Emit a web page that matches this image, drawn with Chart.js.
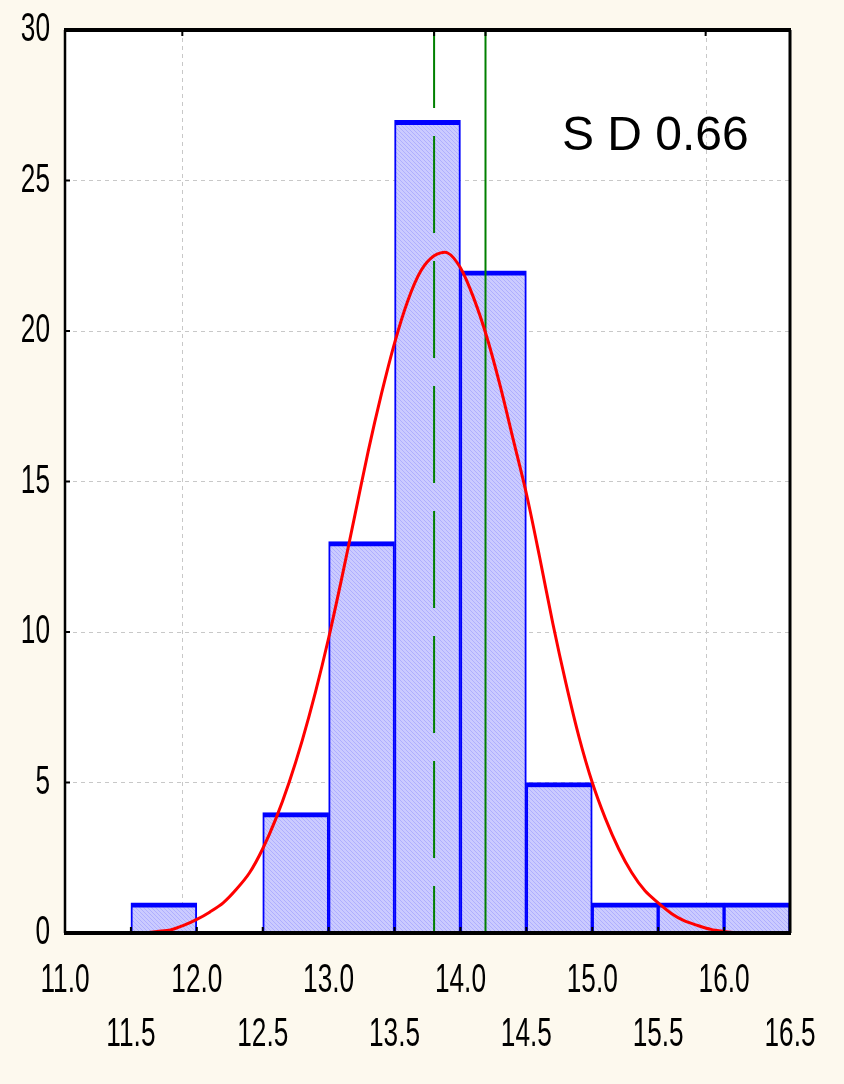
<!DOCTYPE html>
<html>
<head>
<meta charset="utf-8">
<script src="https://cdn.jsdelivr.net/npm/chart.js@4.4.1/dist/chart.umd.min.js"></script>
<style>
  body { margin: 0; background: #fdf9ee; }
  canvas { display: block; }
</style>
</head>
<body>
<canvas id="g_hist" width="844" height="1084"></canvas>
<script>
// histogram bins (centres) and counts
const binCentres = [11.75, 12.25, 12.75, 13.25, 13.75, 14.25, 14.75, 15.25, 15.75, 16.25]
const binCounts = [1, 0, 4, 13, 27, 22, 5, 1, 1, 1]

// fitted normal curve
const curveX = [11.6, 11.7, 11.8, 11.9, 12.0, 12.1, 12.2, 12.3, 12.4, 12.5, 12.6, 12.7, 12.8, 12.9,
    13.0, 13.1, 13.2, 13.3, 13.4, 13.5, 13.6, 13.7, 13.8, 13.9, 14.0, 14.1, 14.2, 14.3, 14.4,
    14.5, 14.6, 14.7, 14.8, 14.9, 15.0, 15.1, 15.2, 15.3, 15.4, 15.5, 15.6, 15.7, 15.8, 15.9, 16.0, 16.1]
const curveY = [0, 0.05, 0.1, 0.25, 0.45, 0.7, 1.0, 1.45, 2.0, 2.8, 3.8, 5.0, 6.4, 8.0,
    9.8, 11.8, 13.9, 16.0, 17.9, 19.6, 21.0, 22.0, 22.5, 22.6, 22.1, 21.1, 19.8, 18.2, 16.4,
    14.6, 12.5, 10.3, 8.3, 6.5, 5.0, 3.8, 2.8, 2.0, 1.4, 1.0, 0.65, 0.4, 0.25, 0.12, 0.05, 0]

// green reference lines (dashed / solid)
const dashedLineX = 13.8
const solidLineX = 14.19

// axis ranges and odd vertical grid positions
const xMin = 11.0
const xMax = 16.5
const yTicks = [0, 5, 10, 15, 20, 25, 30]
const xGridLines = [11.89, 15.86]

const sdLabel = "S D 0.66"
const sdPos = { x: 14.77, y: 26.0 }

const narrowFont = '"Liberation Sans Narrow", "Liberation Sans", sans-serif'

function hatch() {
    const c = document.createElement("canvas")
    c.width = 4
    c.height = 4
    const g = c.getContext("2d")
    g.fillStyle = "#cbcbff"
    g.fillRect(0, 0, 4, 4)
    g.strokeStyle = "#afafff"
    g.lineWidth = 1
    g.beginPath()
    g.moveTo(0, 0)
    g.lineTo(4, 4)
    g.stroke()
    return g.createPattern(c, "repeat")
}

// the tick font of the original is a very condensed Arial: squeeze those labels sideways
const narrowText = {
    id: "narrowText",
    beforeInit(chart) {
        const ctx = chart.ctx
        const fill = ctx.fillText.bind(ctx)
        ctx.fillText = function (text, x, y, maxWidth) {
            if (this.font.indexOf("Narrow") >= 0) {
                this.save()
                this.translate(x, y)
                this.scale(0.64, 1)
                fill(text, 0, 0)
                this.restore()
            } else {
                fill(text, x, y, maxWidth)
            }
        }
    }
}

// white plot area, dashed vertical grid, frame with inner ticks, SD label
const framePlugin = {
    id: "frame",
    beforeDraw(chart) {
        const { ctx, chartArea: a } = chart
        ctx.save()
        ctx.fillStyle = "#ffffff"
        ctx.fillRect(a.left, a.top, a.right - a.left, a.bottom - a.top)
        ctx.restore()
    },
    beforeDatasetsDraw(chart) {
        const { ctx, chartArea: a, scales } = chart
        ctx.save()
        ctx.strokeStyle = "#c8c8c8"
        ctx.lineWidth = 1
        ctx.setLineDash([4, 4])
        xGridLines.forEach(v => {
            const px = Math.round(scales.x.getPixelForValue(v)) + 0.5
            ctx.beginPath()
            ctx.moveTo(px, a.top)
            ctx.lineTo(px, a.bottom)
            ctx.stroke()
        })
        ctx.restore()
    },
    afterDatasetsDraw(chart) {
        const { ctx, chartArea: a, scales } = chart
        ctx.save()
        ctx.strokeStyle = "#000000"
        ctx.lineCap = "butt"
        // inner tick marks
        ctx.lineWidth = 2
        for (let v = xMin + 0.5; v < xMax; v += 0.5) {
            const px = scales.x.getPixelForValue(v)
            ctx.beginPath(); ctx.moveTo(px, a.bottom); ctx.lineTo(px, a.bottom - 6); ctx.stroke()
        }
        xGridLines.concat([dashedLineX, solidLineX]).forEach(v => {
            const px = scales.x.getPixelForValue(v)
            ctx.beginPath(); ctx.moveTo(px, a.top); ctx.lineTo(px, a.top + 6); ctx.stroke()
        })
        yTicks.forEach(v => {
            const py = scales.y.getPixelForValue(v)
            ctx.beginPath(); ctx.moveTo(a.left, py); ctx.lineTo(a.left + 5, py); ctx.stroke()
        })
        // frame
        ctx.lineWidth = 4
        ctx.beginPath(); ctx.moveTo(a.left - 1, a.top); ctx.lineTo(a.right + 1, a.top); ctx.stroke()
        ctx.beginPath(); ctx.moveTo(a.left - 1, a.bottom); ctx.lineTo(a.right + 1, a.bottom); ctx.stroke()
        ctx.lineWidth = 2.5
        ctx.beginPath(); ctx.moveTo(a.left, a.top); ctx.lineTo(a.left, a.bottom); ctx.stroke()
        ctx.lineWidth = 3
        ctx.beginPath(); ctx.moveTo(a.right, a.top); ctx.lineTo(a.right, a.bottom); ctx.stroke()
        // SD label
        ctx.fillStyle = "#000000"
        ctx.font = '48px "Liberation Sans", Arial, sans-serif'
        ctx.textAlign = "left"
        ctx.textBaseline = "alphabetic"
        ctx.fillText(sdLabel, scales.x.getPixelForValue(sdPos.x), scales.y.getPixelForValue(sdPos.y))
        ctx.restore()
    }
}

const noPad = (axis) => {
    axis.paddingTop = 0
    axis.paddingBottom = 0
    axis.paddingLeft = 0
    axis.paddingRight = 0
}

const g_hist = document.getElementById("g_hist")

new Chart(g_hist, {
    type: "bar",
    data: {
        datasets: [
            {
                type: "line",
                label: "normal",
                data: curveX.map((x, i) => ({ x: x, y: curveY[i] })),
                borderColor: "#ff0000",
                borderWidth: 3,
                pointRadius: 0,
                tension: 0.3,
                order: 1
            },
            {
                type: "line",
                label: "dashed",
                data: [{ x: dashedLineX, y: 30 }, { x: dashedLineX, y: 0 }],
                borderColor: "#008000",
                borderWidth: 2,
                borderDash: [97, 28],
                borderDashOffset: 19,
                pointRadius: 0,
                order: 2
            },
            {
                type: "line",
                label: "solid",
                data: [{ x: solidLineX, y: 30 }, { x: solidLineX, y: 0 }],
                borderColor: "#008000",
                borderWidth: 2,
                pointRadius: 0,
                order: 2
            },
            {
                label: "count",
                data: binCentres.map((x, i) => ({ x: x, y: binCounts[i] })),
                backgroundColor: hatch(),
                borderColor: "#0000ff",
                borderWidth: { top: 5, left: 2, right: 2, bottom: 0 },
                borderSkipped: "bottom",
                barPercentage: 1,
                categoryPercentage: 1,
                order: 3
            }
        ]
    },
    options: {
        responsive: false,
        maintainAspectRatio: false,
        animation: false,
        layout: {
            padding: { top: 30, right: 54, left: 0, bottom: 0 }
        },
        plugins: {
            legend: { display: false },
            tooltip: { enabled: false }
        },
        scales: {
            x: {
                type: "linear",
                offset: false,
                min: xMin,
                max: xMax,
                grid: { display: false, drawTicks: false },
                border: { display: false },
                afterFit: (axis) => { axis.height = 151; noPad(axis) },
                ticks: {
                    stepSize: 0.5,
                    autoSkip: false,
                    maxRotation: 0,
                    padding: 21,
                    color: "#000000",
                    font: { family: narrowFont, size: 41, lineHeight: 1.32 },
                    callback: (v) => {
                        const s = Number(v).toFixed(1)
                        return Math.round(v * 2) % 2 === 0 ? [s, ""] : ["", s]
                    }
                }
            },
            y: {
                min: 0,
                max: 30,
                grid: { color: "#c8c8c8", lineWidth: 1, drawTicks: false },
                border: { display: false, dash: [4, 4] },
                afterFit: (axis) => { axis.width = 65; noPad(axis) },
                ticks: {
                    stepSize: 5,
                    padding: 15,
                    color: "#000000",
                    font: { family: narrowFont, size: 41 }
                }
            }
        }
    },
    plugins: [narrowText, framePlugin]
})
</script>
</body>
</html>
